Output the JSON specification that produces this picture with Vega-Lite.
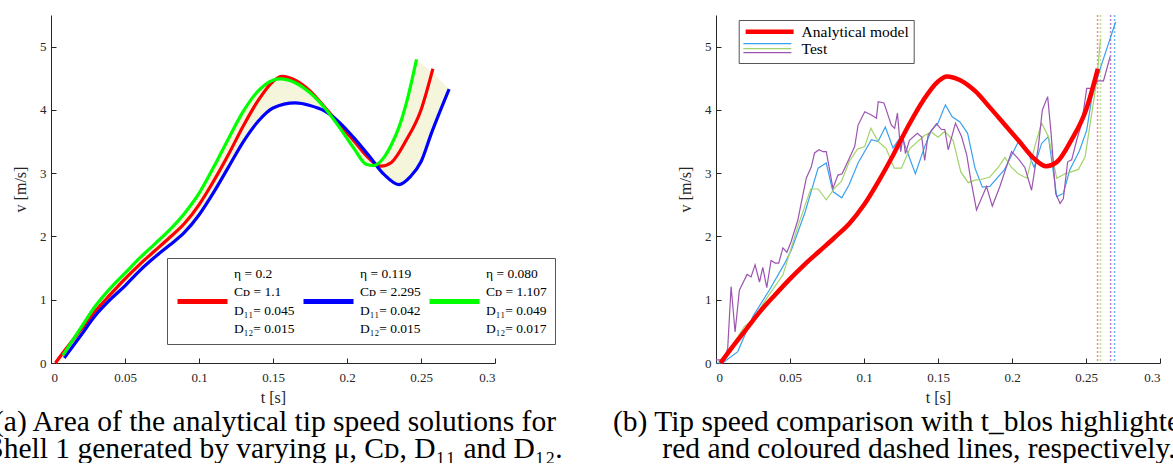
{
  "$schema": "https://vega.github.io/schema/vega-lite/v6.json",
  "autosize": {"type": "pad"},
  "padding": {"left": -13, "top": 14, "right": 0, "bottom": 0},
  "background": "white",
  "config": {
    "font": "Liberation Serif, DejaVu Serif, serif",
    "view": {"stroke": null},
    "axis": {
      "grid": false,
      "domainColor": "#262626",
      "tickColor": "#262626",
      "labelColor": "#262626",
      "titleColor": "#262626",
      "labelFont": "Liberation Serif, DejaVu Serif, serif",
      "titleFont": "Liberation Serif, DejaVu Serif, serif",
      "labelFontSize": 13,
      "titleFontSize": 16,
      "titleFontWeight": "normal",
      "tickSize": -5,
      "labelPadding": 10,
      "labelOverlap": false,
      "domainWidth": 1,
      "tickWidth": 1
    },
    "axisX": {"labelPadding": 13, "titlePadding": 5},
    "axisY": {"titlePadding": 11},
    "style": {"guide-label": {"lineHeight": 18.5}},
    "title": {"font": "Liberation Serif, DejaVu Serif, serif", "fontSize": 29.5, "fontWeight": "normal", "color": "black", "lineHeight": 26.5}
  },
  "datasets": {
    "curves": [
      {"s": "r", "t": 0.003, "v": 0}, {"s": "r", "t": 0.01, "v": 0.22}, {"s": "r", "t": 0.02, "v": 0.52}, {"s": "r", "t": 0.03, "v": 0.82},
      {"s": "r", "t": 0.04, "v": 1.08}, {"s": "r", "t": 0.05, "v": 1.33}, {"s": "r", "t": 0.06, "v": 1.56}, {"s": "r", "t": 0.07, "v": 1.77},
      {"s": "r", "t": 0.08, "v": 1.98}, {"s": "r", "t": 0.09, "v": 2.2}, {"s": "r", "t": 0.1, "v": 2.5}, {"s": "r", "t": 0.11, "v": 2.88},
      {"s": "r", "t": 0.12, "v": 3.3}, {"s": "r", "t": 0.13, "v": 3.75}, {"s": "r", "t": 0.14, "v": 4.15}, {"s": "r", "t": 0.15, "v": 4.45},
      {"s": "r", "t": 0.156, "v": 4.53}, {"s": "r", "t": 0.165, "v": 4.47}, {"s": "r", "t": 0.175, "v": 4.3}, {"s": "r", "t": 0.185, "v": 4.04},
      {"s": "r", "t": 0.195, "v": 3.77}, {"s": "r", "t": 0.205, "v": 3.5}, {"s": "r", "t": 0.215, "v": 3.23}, {"s": "r", "t": 0.223, "v": 3.11},
      {"s": "r", "t": 0.23, "v": 3.17}, {"s": "r", "t": 0.24, "v": 3.52}, {"s": "r", "t": 0.25, "v": 4.0}, {"s": "r", "t": 0.258, "v": 4.65},
      {"s": "b", "t": 0.009, "v": 0.08}, {"s": "b", "t": 0.02, "v": 0.43}, {"s": "b", "t": 0.03, "v": 0.75}, {"s": "b", "t": 0.04, "v": 1.0},
      {"s": "b", "t": 0.05, "v": 1.22}, {"s": "b", "t": 0.06, "v": 1.46}, {"s": "b", "t": 0.07, "v": 1.67}, {"s": "b", "t": 0.08, "v": 1.86},
      {"s": "b", "t": 0.09, "v": 2.06}, {"s": "b", "t": 0.1, "v": 2.34}, {"s": "b", "t": 0.11, "v": 2.7}, {"s": "b", "t": 0.12, "v": 3.1},
      {"s": "b", "t": 0.13, "v": 3.5}, {"s": "b", "t": 0.14, "v": 3.82}, {"s": "b", "t": 0.15, "v": 4.03}, {"s": "b", "t": 0.165, "v": 4.11},
      {"s": "b", "t": 0.175, "v": 4.07}, {"s": "b", "t": 0.185, "v": 3.98}, {"s": "b", "t": 0.195, "v": 3.8}, {"s": "b", "t": 0.205, "v": 3.55},
      {"s": "b", "t": 0.215, "v": 3.27}, {"s": "b", "t": 0.225, "v": 2.98}, {"s": "b", "t": 0.235, "v": 2.82}, {"s": "b", "t": 0.243, "v": 2.95},
      {"s": "b", "t": 0.25, "v": 3.18}, {"s": "b", "t": 0.257, "v": 3.63}, {"s": "b", "t": 0.269, "v": 4.33},
      {"s": "g", "t": 0.008, "v": 0.12}, {"s": "g", "t": 0.02, "v": 0.55}, {"s": "g", "t": 0.03, "v": 0.9}, {"s": "g", "t": 0.04, "v": 1.18},
      {"s": "g", "t": 0.05, "v": 1.42}, {"s": "g", "t": 0.06, "v": 1.66}, {"s": "g", "t": 0.07, "v": 1.88}, {"s": "g", "t": 0.08, "v": 2.1},
      {"s": "g", "t": 0.09, "v": 2.36}, {"s": "g", "t": 0.1, "v": 2.68}, {"s": "g", "t": 0.11, "v": 3.1}, {"s": "g", "t": 0.12, "v": 3.55},
      {"s": "g", "t": 0.13, "v": 3.98}, {"s": "g", "t": 0.14, "v": 4.3}, {"s": "g", "t": 0.15, "v": 4.47}, {"s": "g", "t": 0.155, "v": 4.49},
      {"s": "g", "t": 0.165, "v": 4.43}, {"s": "g", "t": 0.175, "v": 4.27}, {"s": "g", "t": 0.185, "v": 4.03}, {"s": "g", "t": 0.195, "v": 3.72},
      {"s": "g", "t": 0.205, "v": 3.38}, {"s": "g", "t": 0.213, "v": 3.14}, {"s": "g", "t": 0.218, "v": 3.12}, {"s": "g", "t": 0.225, "v": 3.25},
      {"s": "g", "t": 0.23, "v": 3.45}, {"s": "g", "t": 0.235, "v": 3.72}, {"s": "g", "t": 0.24, "v": 4.1}, {"s": "g", "t": 0.247, "v": 4.8}
    ],
    "band": [
      {"t": 0.003, "lo": 0, "hi": 0}, {"t": 0.01, "lo": 0.1, "hi": 0.25}, {"t": 0.02, "lo": 0.43, "hi": 0.55}, {"t": 0.03, "lo": 0.75, "hi": 0.9},
      {"t": 0.04, "lo": 1.0, "hi": 1.18}, {"t": 0.05, "lo": 1.22, "hi": 1.42}, {"t": 0.06, "lo": 1.46, "hi": 1.66}, {"t": 0.07, "lo": 1.67, "hi": 1.88},
      {"t": 0.08, "lo": 1.86, "hi": 2.1}, {"t": 0.09, "lo": 2.06, "hi": 2.36}, {"t": 0.1, "lo": 2.34, "hi": 2.68}, {"t": 0.11, "lo": 2.7, "hi": 3.1},
      {"t": 0.12, "lo": 3.1, "hi": 3.55}, {"t": 0.13, "lo": 3.5, "hi": 3.98}, {"t": 0.14, "lo": 3.82, "hi": 4.3}, {"t": 0.15, "lo": 4.03, "hi": 4.47},
      {"t": 0.156, "lo": 4.07, "hi": 4.53}, {"t": 0.165, "lo": 4.11, "hi": 4.47}, {"t": 0.175, "lo": 4.07, "hi": 4.3}, {"t": 0.185, "lo": 3.98, "hi": 4.04},
      {"t": 0.19, "lo": 3.9, "hi": 3.92}, {"t": 0.195, "lo": 3.72, "hi": 3.8}, {"t": 0.205, "lo": 3.38, "hi": 3.55}, {"t": 0.213, "lo": 3.14, "hi": 3.33},
      {"t": 0.218, "lo": 3.12, "hi": 3.19}, {"t": 0.221, "lo": 3.1, "hi": 3.14}, {"t": 0.225, "lo": 2.98, "hi": 3.25}, {"t": 0.23, "lo": 2.88, "hi": 3.45},
      {"t": 0.235, "lo": 2.82, "hi": 3.72}, {"t": 0.24, "lo": 2.88, "hi": 4.1}, {"t": 0.247, "lo": 3.05, "hi": 4.8}, {"t": 0.25, "lo": 3.18, "hi": 4.74},
      {"t": 0.257, "lo": 3.63, "hi": 4.6}, {"t": 0.269, "lo": 4.33, "hi": 4.33}
    ],
    "tests": [
      {"run": "1", "t": 0, "v": 0}, {"run": "1", "t": 0.0045, "v": 0}, {"run": "1", "t": 0.0147, "v": 0.18}, {"run": "1", "t": 0.0248, "v": 0.73},
      {"run": "1", "t": 0.036, "v": 1.15}, {"run": "1", "t": 0.0463, "v": 1.57}, {"run": "1", "t": 0.051, "v": 1.79}, {"run": "1", "t": 0.06, "v": 2.37},
      {"run": "1", "t": 0.069, "v": 3.08}, {"run": "1", "t": 0.0745, "v": 3.16}, {"run": "1", "t": 0.079, "v": 2.71}, {"run": "1", "t": 0.085, "v": 2.61},
      {"run": "1", "t": 0.09, "v": 2.82}, {"run": "1", "t": 0.096, "v": 3.16}, {"run": "1", "t": 0.105, "v": 3.53}, {"run": "1", "t": 0.1095, "v": 3.5},
      {"run": "1", "t": 0.1144, "v": 3.73}, {"run": "1", "t": 0.1196, "v": 3.4}, {"run": "1", "t": 0.1253, "v": 3.59}, {"run": "1", "t": 0.1347, "v": 2.99},
      {"run": "1", "t": 0.141, "v": 3.42}, {"run": "1", "t": 0.1456, "v": 3.68}, {"run": "1", "t": 0.15, "v": 3.79}, {"run": "1", "t": 0.155, "v": 4.08},
      {"run": "1", "t": 0.1596, "v": 3.89}, {"run": "1", "t": 0.1648, "v": 3.81}, {"run": "1", "t": 0.17, "v": 3.63}, {"run": "1", "t": 0.175, "v": 3.08},
      {"run": "1", "t": 0.18, "v": 2.78}, {"run": "1", "t": 0.185, "v": 2.79}, {"run": "1", "t": 0.1948, "v": 3.05}, {"run": "1", "t": 0.205, "v": 3.53},
      {"run": "1", "t": 0.21, "v": 3.37}, {"run": "1", "t": 0.215, "v": 3.09}, {"run": "1", "t": 0.22, "v": 3.47}, {"run": "1", "t": 0.2246, "v": 3.58},
      {"run": "1", "t": 0.2302, "v": 2.63}, {"run": "1", "t": 0.2347, "v": 2.68}, {"run": "1", "t": 0.239, "v": 3.05}, {"run": "1", "t": 0.2455, "v": 3.35},
      {"run": "1", "t": 0.2505, "v": 3.68}, {"run": "1", "t": 0.254, "v": 4.2}, {"run": "1", "t": 0.26, "v": 4.68}, {"run": "1", "t": 0.27, "v": 5.39},
      {"run": "2", "t": 0.002, "v": 0}, {"run": "2", "t": 0.009, "v": 0.2}, {"run": "2", "t": 0.0192, "v": 0.58}, {"run": "2", "t": 0.0248, "v": 0.68},
      {"run": "2", "t": 0.035, "v": 1.05}, {"run": "2", "t": 0.0452, "v": 1.39}, {"run": "2", "t": 0.0553, "v": 2.16}, {"run": "2", "t": 0.064, "v": 2.75},
      {"run": "2", "t": 0.069, "v": 2.75}, {"run": "2", "t": 0.0745, "v": 2.58}, {"run": "2", "t": 0.08, "v": 2.76}, {"run": "2", "t": 0.0847, "v": 2.87},
      {"run": "2", "t": 0.09, "v": 3.18}, {"run": "2", "t": 0.0955, "v": 3.38}, {"run": "2", "t": 0.1005, "v": 3.42}, {"run": "2", "t": 0.1046, "v": 3.71},
      {"run": "2", "t": 0.1096, "v": 3.5}, {"run": "2", "t": 0.115, "v": 3.39}, {"run": "2", "t": 0.1204, "v": 3.08}, {"run": "2", "t": 0.1253, "v": 3.08},
      {"run": "2", "t": 0.131, "v": 3.39}, {"run": "2", "t": 0.141, "v": 3.6}, {"run": "2", "t": 0.1456, "v": 3.65}, {"run": "2", "t": 0.15, "v": 3.57},
      {"run": "2", "t": 0.1546, "v": 3.66}, {"run": "2", "t": 0.1602, "v": 3.52}, {"run": "2", "t": 0.1654, "v": 3.02}, {"run": "2", "t": 0.1704, "v": 2.85},
      {"run": "2", "t": 0.175, "v": 2.89}, {"run": "2", "t": 0.179, "v": 2.9}, {"run": "2", "t": 0.185, "v": 2.94}, {"run": "2", "t": 0.1907, "v": 3.09},
      {"run": "2", "t": 0.1952, "v": 3.25}, {"run": "2", "t": 0.1997, "v": 3.09}, {"run": "2", "t": 0.2042, "v": 2.99}, {"run": "2", "t": 0.21, "v": 2.92},
      {"run": "2", "t": 0.2156, "v": 3.44}, {"run": "2", "t": 0.22, "v": 3.79}, {"run": "2", "t": 0.2246, "v": 3.58}, {"run": "2", "t": 0.2302, "v": 2.92},
      {"run": "2", "t": 0.2359, "v": 2.99}, {"run": "2", "t": 0.2449, "v": 3.06}, {"run": "2", "t": 0.2494, "v": 3.26}, {"run": "2", "t": 0.2539, "v": 3.95},
      {"run": "2", "t": 0.2573, "v": 4.47}, {"run": "2", "t": 0.2598, "v": 5.13},
      {"run": "3", "t": 0, "v": 0.05}, {"run": "3", "t": 0.0056, "v": 0.05}, {"run": "3", "t": 0.0079, "v": 0.23}, {"run": "3", "t": 0.0102, "v": 1.21},
      {"run": "3", "t": 0.0129, "v": 0.49}, {"run": "3", "t": 0.0158, "v": 1.15}, {"run": "3", "t": 0.021, "v": 1.4}, {"run": "3", "t": 0.0237, "v": 1.36},
      {"run": "3", "t": 0.0264, "v": 1.55}, {"run": "3", "t": 0.0294, "v": 1.28}, {"run": "3", "t": 0.0316, "v": 1.51}, {"run": "3", "t": 0.0343, "v": 1.19},
      {"run": "3", "t": 0.0372, "v": 1.62}, {"run": "3", "t": 0.04, "v": 1.58}, {"run": "3", "t": 0.0424, "v": 1.58}, {"run": "3", "t": 0.0452, "v": 1.82},
      {"run": "3", "t": 0.0479, "v": 1.75}, {"run": "3", "t": 0.0508, "v": 1.92}, {"run": "3", "t": 0.0553, "v": 2.26}, {"run": "3", "t": 0.0576, "v": 2.53},
      {"run": "3", "t": 0.061, "v": 2.92}, {"run": "3", "t": 0.0644, "v": 3.1}, {"run": "3", "t": 0.0666, "v": 3.32}, {"run": "3", "t": 0.0696, "v": 3.37},
      {"run": "3", "t": 0.0723, "v": 3.34}, {"run": "3", "t": 0.0745, "v": 3.34}, {"run": "3", "t": 0.0768, "v": 3.05}, {"run": "3", "t": 0.079, "v": 2.76},
      {"run": "3", "t": 0.0824, "v": 2.97}, {"run": "3", "t": 0.0852, "v": 2.99}, {"run": "3", "t": 0.088, "v": 3.13}, {"run": "3", "t": 0.0937, "v": 3.42},
      {"run": "3", "t": 0.096, "v": 3.76}, {"run": "3", "t": 0.1005, "v": 3.97}, {"run": "3", "t": 0.105, "v": 3.92}, {"run": "3", "t": 0.1084, "v": 3.87},
      {"run": "3", "t": 0.1096, "v": 4.13}, {"run": "3", "t": 0.1135, "v": 4.11}, {"run": "3", "t": 0.1185, "v": 3.76}, {"run": "3", "t": 0.1207, "v": 3.71},
      {"run": "3", "t": 0.1226, "v": 3.95}, {"run": "3", "t": 0.1248, "v": 3.34}, {"run": "3", "t": 0.1264, "v": 3.58}, {"run": "3", "t": 0.128, "v": 3.31},
      {"run": "3", "t": 0.1307, "v": 3.52}, {"run": "3", "t": 0.136, "v": 3.63}, {"run": "3", "t": 0.139, "v": 3.57}, {"run": "3", "t": 0.141, "v": 3.2},
      {"run": "3", "t": 0.1433, "v": 3.6}, {"run": "3", "t": 0.149, "v": 3.78}, {"run": "3", "t": 0.1523, "v": 3.69}, {"run": "3", "t": 0.1546, "v": 3.69},
      {"run": "3", "t": 0.1569, "v": 3.37}, {"run": "3", "t": 0.1618, "v": 3.79}, {"run": "3", "t": 0.1659, "v": 3.58}, {"run": "3", "t": 0.1694, "v": 3.29},
      {"run": "3", "t": 0.1722, "v": 2.89}, {"run": "3", "t": 0.176, "v": 2.42}, {"run": "3", "t": 0.1828, "v": 2.79}, {"run": "3", "t": 0.1867, "v": 2.48},
      {"run": "3", "t": 0.1918, "v": 2.79}, {"run": "3", "t": 0.1997, "v": 3.34}, {"run": "3", "t": 0.2042, "v": 3.23}, {"run": "3", "t": 0.2087, "v": 3.09},
      {"run": "3", "t": 0.2132, "v": 2.73}, {"run": "3", "t": 0.2178, "v": 3.42}, {"run": "3", "t": 0.2205, "v": 4.0}, {"run": "3", "t": 0.2241, "v": 4.21},
      {"run": "3", "t": 0.2263, "v": 3.66}, {"run": "3", "t": 0.2295, "v": 2.68}, {"run": "3", "t": 0.2325, "v": 2.52}, {"run": "3", "t": 0.2347, "v": 2.6},
      {"run": "3", "t": 0.2376, "v": 3.18}, {"run": "3", "t": 0.2403, "v": 3.21}, {"run": "3", "t": 0.2437, "v": 3.52}, {"run": "3", "t": 0.2471, "v": 3.79},
      {"run": "3", "t": 0.2505, "v": 4.34}, {"run": "3", "t": 0.254, "v": 4.34}, {"run": "3", "t": 0.258, "v": 4.46}, {"run": "3", "t": 0.2618, "v": 4.46},
      {"run": "3", "t": 0.2663, "v": 4.84}
    ],
    "blos": [
      {"run": "m", "t": 0.2578}, {"run": "2", "t": 0.2598}, {"run": "3", "t": 0.2666}, {"run": "1", "t": 0.2693}
    ]
  },
  "spacing": 221,
  "bounds": "flush",
  "hconcat": [
    {
      "width": 444,
      "height": 348,
      "title": {
        "text": ["(a) Area of the analytical tip speed solutions for", "Shell 1 generated by varying μ, Cᴅ, D₁₁ and D₁₂."],
        "orient": "bottom",
        "anchor": "middle",
        "offset": 3,
        "dx": 2
      },
      "layer": [
        {
          "data": {"name": "band"},
          "mark": {"type": "area", "color": "#f5f5dc", "interpolate": "monotone"},
          "encoding": {
            "x": {"field": "t", "type": "quantitative", "scale": {"domain": [0, 0.3], "nice": false},
              "axis": {"values": [0, 0.05, 0.1, 0.15, 0.2, 0.25, 0.3], "format": "~g", "title": "t [s]"}},
            "y": {"field": "hi", "type": "quantitative", "scale": {"domain": [0, 5.5], "nice": false},
              "axis": {"values": [0, 0.5, 1, 1.5, 2, 2.5, 3, 3.5, 4, 4.5, 5, 5.5], "format": "~g", "title": "v [m/s]"}},
            "y2": {"field": "lo"}
          }
        },
        {
          "data": {"name": "curves"},
          "mark": {"type": "line", "strokeWidth": 3.2, "interpolate": "monotone"},
          "encoding": {
            "x": {"field": "t", "type": "quantitative"},
            "y": {"field": "v", "type": "quantitative"},
            "stroke": {
              "field": "s", "type": "nominal",
              "scale": {"domain": ["r", "b", "g"], "range": ["#ff0000", "#0000ff", "#00ff00"]},
              "legend": {
                "orient": "none", "legendX": 116, "legendY": 243,
                "direction": "horizontal", "columns": 3, "title": null,
                "symbolType": "M-1,5.55H9", "symbolSize": 100, "symbolStrokeWidth": 5, "symbolFillColor": "transparent",
                "labelOffset": 44, "labelFontSize": 13.5, "labelFont": "Liberation Serif, DejaVu Serif, serif", "labelColor": "black", "labelLimit": 0,
                "labelExpr": "datum.label == 'r' ? ['η   = 0.2', 'Cᴅ = 1.1', 'D₁₁= 0.045', 'D₁₂= 0.015'] : datum.label == 'b' ? ['η   = 0.119', 'Cᴅ = 2.295', 'D₁₁= 0.042', 'D₁₂= 0.015'] : ['η   = 0.080', 'Cᴅ = 1.107', 'D₁₁= 0.049', 'D₁₂= 0.017']",
                "strokeColor": "#555555", "fillColor": "white", "padding": 8, "columnPadding": -2
              }
            }
          }
        }
      ]
    },
    {
      "width": 444,
      "height": 348,
      "title": {
        "text": ["(b) Tip speed comparison with t_blos highlighted in", "red and coloured dashed lines, respectively."],
        "orient": "bottom",
        "anchor": "middle",
        "offset": 3,
        "dx": -19
      },
      "resolve": {"scale": {"stroke": "independent"}, "legend": {"stroke": "independent"}},
      "layer": [
        {
          "data": {"name": "blos"},
          "mark": {"type": "rule", "strokeDash": [2, 2], "strokeWidth": 1.5, "opacity": 0.75},
          "encoding": {
            "x": {"field": "t", "type": "quantitative", "scale": {"domain": [0, 0.3], "nice": false},
              "axis": {"values": [0, 0.05, 0.1, 0.15, 0.2, 0.25, 0.3], "format": "~g", "title": "t [s]"}},
            "color": {"field": "run", "type": "nominal", "legend": null,
              "scale": {"domain": ["m", "1", "2", "3"], "range": ["#ff6060", "#3aa0f0", "#a3d36a", "#9b55b0"]}}
          }
        },
        {
          "data": {"name": "tests"},
          "transform": [{"filter": "datum.run == '1'"}],
          "mark": {"type": "line", "strokeWidth": 1.2},
          "encoding": {
            "x": {"field": "t", "type": "quantitative"},
            "y": {"field": "v", "type": "quantitative", "scale": {"domain": [0, 5.5], "nice": false},
              "axis": {"values": [0, 0.5, 1, 1.5, 2, 2.5, 3, 3.5, 4, 4.5, 5, 5.5], "format": "~g", "title": "v [m/s]"}},
            "stroke": {"field": "run", "type": "nominal", "scale": {"domain": ["1"], "range": ["#3aa0f0"]},
              "legend": {"orient": "none", "legendX": 26.7, "legendY": 23.2, "title": null, "symbolType": "M-1,0H9", "symbolSize": 92,
                "symbolStrokeWidth": 1.2, "symbolFillColor": "transparent", "labelExpr": "''", "padding": 0}}
          }
        },
        {
          "data": {"name": "tests"},
          "transform": [{"filter": "datum.run == '2'"}],
          "mark": {"type": "line", "strokeWidth": 1.2},
          "encoding": {
            "x": {"field": "t", "type": "quantitative"},
            "y": {"field": "v", "type": "quantitative"},
            "stroke": {"field": "run", "type": "nominal", "scale": {"domain": ["2"], "range": ["#a3d36a"]},
              "legend": {"orient": "none", "legendX": 26.7, "legendY": 28.2, "title": null, "symbolType": "M-1,0H9", "symbolSize": 92,
                "symbolStrokeWidth": 1.2, "symbolFillColor": "transparent", "labelExpr": "''", "padding": 0}}
          }
        },
        {
          "data": {"name": "tests"},
          "transform": [{"filter": "datum.run == '3'"}],
          "mark": {"type": "line", "strokeWidth": 1.2},
          "encoding": {
            "x": {"field": "t", "type": "quantitative"},
            "y": {"field": "v", "type": "quantitative"},
            "stroke": {"field": "run", "type": "nominal", "scale": {"domain": ["3"], "range": ["#9b55b0"]},
              "legend": {"orient": "none", "legendX": 26.7, "legendY": 32.2, "title": null, "symbolType": "M-1,0H9", "symbolSize": 92,
                "symbolStrokeWidth": 1.2, "symbolFillColor": "transparent", "labelExpr": "''", "padding": 0}}
          }
        },
        {
          "data": {"name": "curves"},
          "transform": [{"filter": "datum.s == 'r'"}],
          "mark": {"type": "line", "strokeWidth": 4.5, "interpolate": "monotone"},
          "encoding": {
            "x": {"field": "t", "type": "quantitative"},
            "y": {"field": "v", "type": "quantitative"},
            "stroke": {"field": "s", "type": "nominal", "scale": {"domain": ["r", "test"], "range": ["#ff0000", "rgba(0,0,0,0)"]},
              "legend": {"orient": "none", "legendX": 22.7, "legendY": 5, "title": null, "symbolType": "M-1,0H9", "symbolSize": 92,
                "symbolStrokeWidth": 4.5, "symbolFillColor": "transparent", "labelOffset": 43.4, "labelFontSize": 15.5,
                "labelFont": "Liberation Serif, DejaVu Serif, serif", "labelColor": "black", "labelLimit": 0, "rowPadding": -1.5,
                "labelExpr": "datum.label == 'r' ? 'Analytical model' : 'Test'",
                "strokeColor": "#555555", "padding": 4}}
          }
        }
      ]
    }
  ]
}
